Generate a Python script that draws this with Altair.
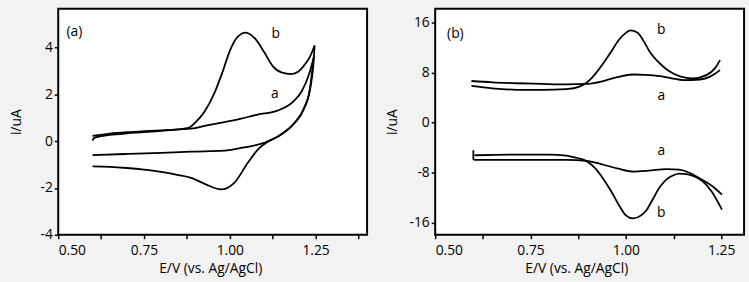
import altair as alt
import pandas as pd

# ---------------- Panel (a) data ----------------
a_fwd_E = [0.600, 0.650, 0.700, 0.750, 0.800, 0.850, 0.887, 0.930, 0.984, 1.030, 1.081, 1.139, 1.187, 1.210, 1.233, 1.245]
a_fwd_I = [0.22, 0.32, 0.38, 0.42, 0.46, 0.50, 0.53, 0.66, 0.81, 0.95, 1.13, 1.30, 1.72, 2.14, 2.95, 3.60]
a_rev_E = [1.245, 1.240, 1.233, 1.216, 1.187, 1.139, 1.100, 1.042, 0.984, 0.887, 0.800, 0.700, 0.600]
a_rev_I = [3.60, 3.00, 2.20, 1.37, 0.74, 0.18, -0.08, -0.27, -0.41, -0.45, -0.50, -0.55, -0.60]
b_fwd_E = [0.600, 0.603, 0.615, 0.650, 0.700, 0.750, 0.800, 0.850, 0.880, 0.900, 0.926, 0.955, 0.980, 1.000, 1.020, 1.046, 1.075, 1.100, 1.125, 1.150, 1.180, 1.200, 1.220, 1.235, 1.247]
b_fwd_I = [0.02, 0.12, 0.18, 0.26, 0.33, 0.38, 0.44, 0.50, 0.56, 0.80, 1.25, 2.05, 3.00, 3.85, 4.40, 4.63, 4.35, 3.80, 3.20, 2.93, 2.86, 2.97, 3.30, 3.65, 4.08]
b_rev_E = [1.247, 1.243, 1.235, 1.216, 1.187, 1.139, 1.110, 1.085, 1.052, 1.013, 0.974, 0.930, 0.887, 0.850, 0.800, 0.750, 0.700, 0.650, 0.600]
b_rev_I = [4.08, 3.20, 2.30, 1.40, 0.76, 0.20, -0.03, -0.31, -0.94, -1.78, -2.06, -1.85, -1.57, -1.45, -1.32, -1.22, -1.15, -1.10, -1.08]

# ---------------- Panel (b) data ----------------
ab_up_E = [0.595, 0.650, 0.714, 0.780, 0.844, 0.900, 0.935, 0.960, 0.990, 1.021, 1.050, 1.090, 1.120, 1.151, 1.194, 1.228, 1.247]
ab_up_I = [6.66, 6.45, 6.30, 6.20, 6.13, 6.20, 6.55, 7.00, 7.45, 7.70, 7.65, 7.44, 7.10, 6.80, 6.90, 7.60, 8.40]
bb_up_E = [0.595, 0.650, 0.714, 0.780, 0.844, 0.880, 0.905, 0.920, 0.940, 0.960, 0.980, 1.000, 1.012, 1.030, 1.050, 1.064, 1.085, 1.107, 1.142, 1.176, 1.211, 1.235, 1.247]
bb_up_I = [5.90, 5.50, 5.26, 5.25, 5.36, 5.80, 6.80, 7.80, 9.40, 11.20, 13.10, 14.35, 14.75, 14.40, 12.70, 11.20, 9.70, 8.50, 7.40, 7.07, 7.60, 8.80, 10.00]
ab_dn_E = [0.600, 0.610, 0.650, 0.750, 0.844, 0.896, 0.935, 0.980, 1.021, 1.060, 1.107, 1.140, 1.165, 1.194, 1.228, 1.252]
ab_dn_I = [-5.90, -5.93, -5.93, -5.93, -5.95, -6.10, -6.60, -7.35, -7.80, -7.65, -7.40, -7.50, -7.95, -8.90, -10.20, -11.50]
ab_tick_E = [0.600, 0.600]
ab_tick_I = [-4.40, -5.90]
bb_dn_E = [0.603, 0.700, 0.800, 0.844, 0.870, 0.896, 0.920, 0.940, 0.960, 0.986, 1.000, 1.019, 1.040, 1.055, 1.070, 1.090, 1.110, 1.125, 1.140, 1.159, 1.180, 1.200, 1.225, 1.252]
bb_dn_I = [-5.20, -5.10, -5.10, -5.25, -5.60, -6.10, -7.30, -8.90, -10.80, -13.60, -14.80, -15.30, -14.80, -13.90, -12.30, -10.20, -8.90, -8.40, -8.15, -8.20, -8.60, -9.30, -11.00, -13.90]

# ---------------- annotations ----------------
ann_a_text = ["(a)", "b", "a"]
ann_a_E = [0.547, 1.134, 1.131]
ann_a_I = [4.66, 4.58, 2.00]
ann_b_text = ["(b)", "b", "a", "a", "b"]
ann_b_E = [0.553, 1.093, 1.093, 1.093, 1.093]
ann_b_I = [14.2, 14.8, 4.2, -4.5, -14.5]

FONT = "Open Sans"


def build(series):
    rows = []
    for name, es, is_ in series:
        pts = sorted(zip(es, is_), key=lambda p: p[0])
        for k, (e, i) in enumerate(pts):
            rows.append({"E": e, "I": i, "branch": name, "idx": k})
    return pd.DataFrame(rows)


dfa = build([("a_fwd", a_fwd_E, a_fwd_I), ("a_rev", a_rev_E, a_rev_I),
             ("b_fwd", b_fwd_E, b_fwd_I), ("b_rev", b_rev_E, b_rev_I)])
dfb = build([("a_up", ab_up_E, ab_up_I), ("b_up", bb_up_E, bb_up_I),
             ("a_dn", ab_dn_E, ab_dn_I), ("b_dn", bb_dn_E, bb_dn_I)])
dft = pd.DataFrame({"E": ab_tick_E, "I": ab_tick_I})
anna = pd.DataFrame({"t": ann_a_text, "E": ann_a_E, "I": ann_a_I})
annb = pd.DataFrame({"t": ann_b_text, "E": ann_b_E, "I": ann_b_I})

label_y = "datum.value % 2 == 0 ? '' + datum.value : ''"
label_yb = "datum.value % 8 == 0 ? '' + datum.value : ''"
label_x = "(round(datum.value * 100) % 25 == 0) ? format(datum.value, '.2f') : ''"

W = 313
H = 229


def panel(df, ann, xdom, ydom, xticks, yticks, ylab, ytp, title_x, extra=None):
    xs = alt.Scale(domain=xdom, nice=False, zero=False)
    ys = alt.Scale(domain=ydom, nice=False, zero=False)
    xaxis = alt.Axis(values=xticks, labelExpr=label_x, title="E/V (vs. Ag/AgCl)",
                     labelPadding=5, titlePadding=4, titleX=title_x)
    yaxis = alt.Axis(values=yticks, labelExpr=ylab, title="i/uA", titlePadding=ytp)
    lines = alt.Chart(df).mark_line(color="black", strokeWidth=1.8, interpolate="monotone").encode(
        x=alt.X("E:Q", scale=xs, axis=xaxis),
        y=alt.Y("I:Q", scale=ys, axis=yaxis),
        detail="branch:N",
        order=alt.Order("idx:Q"),
    )
    text = alt.Chart(ann).mark_text(font=FONT, fontSize=14, color="black").encode(
        x=alt.X("E:Q", scale=xs),
        y=alt.Y("I:Q", scale=ys),
        text="t:N",
    )
    layers = [lines, text]
    if extra is not None:
        layers.append(alt.Chart(extra).mark_line(color="black", strokeWidth=1.8).encode(
            x=alt.X("E:Q", scale=xs),
            y=alt.Y("I:Q", scale=ys),
        ))
    return alt.layer(*layers).properties(width=W, height=H)


pa = panel(dfa, anna, [0.5, 1.4], [-4, 5.65],
           [0.5, 0.625, 0.75, 0.875, 1.0, 1.125, 1.25, 1.375],
           [-4, -3, -2, -1, 0, 1, 2, 3, 4, 5], label_y, 17, 154)
pb = panel(dfb, annb, [0.5, 1.31], [-17.9, 18.2],
           [0.5, 0.625, 0.75, 0.875, 1.0, 1.125, 1.25],
           [-16, -12, -8, -4, 0, 4, 8, 12, 16], label_yb, 10, 143, extra=dft)

chart = alt.hconcat(pa, pb, spacing=16).properties(
    background="#f2f2f2",
    padding={"left": 8, "top": 6, "right": 4, "bottom": 4},
).configure_view(
    stroke="black", strokeWidth=2, fill="white"
).configure_axis(
    domain=False, grid=False, tickColor="black", tickWidth=1.5, tickSize=4,
    labelFont=FONT, labelFontSize=14, labelColor="black",
    titleFont=FONT, titleFontSize=14, titleFontWeight="normal", titleColor="black",
    labelPadding=2,
)

chart.save("out.html", embed_options={"renderer": "svg", "actions": False})
